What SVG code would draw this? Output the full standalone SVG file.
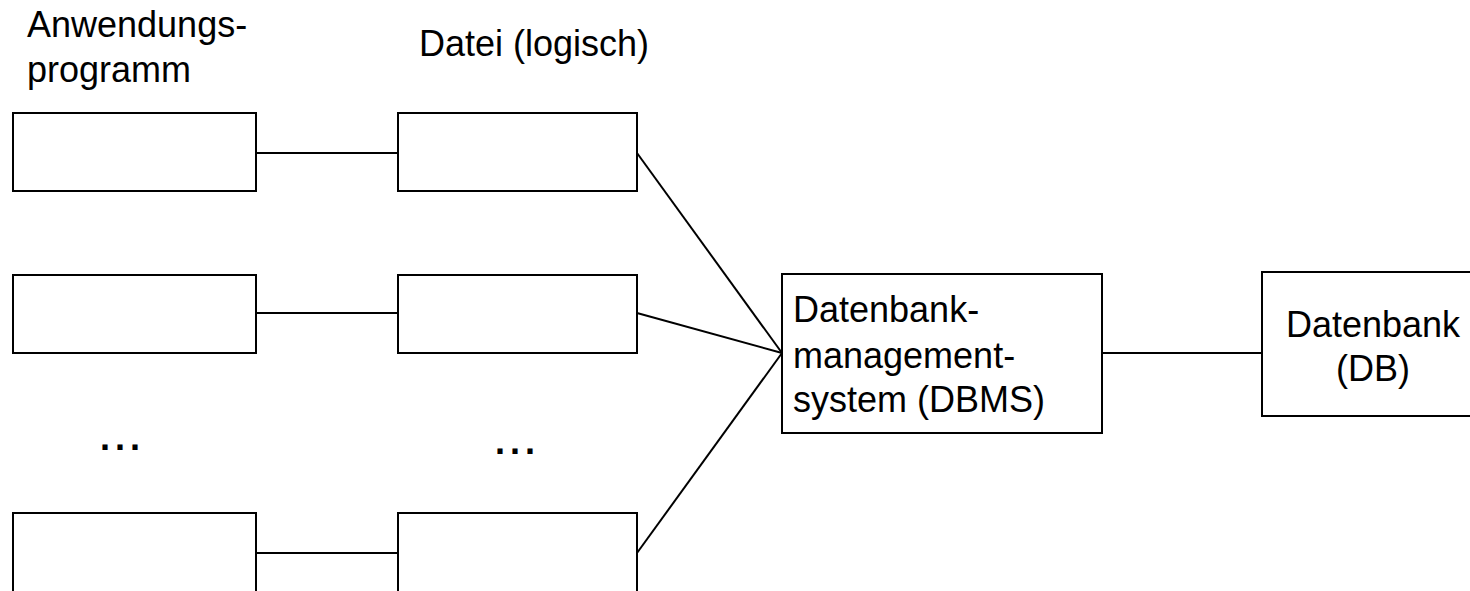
<svg xmlns="http://www.w3.org/2000/svg" width="1470" height="591" viewBox="0 0 1470 591">
<style>
.box{fill:#fff;stroke:#000;stroke-width:2}
.ln{stroke:#000;stroke-width:2;fill:none}
.t{font-family:"Liberation Sans",Arial,sans-serif;font-size:36px;fill:#000}
.d{font-family:"Liberation Sans",Arial,sans-serif;font-size:36px;font-weight:bold;fill:#000;letter-spacing:5px}
</style>
<rect width="1470" height="591" fill="#fff"/>
<g id="labels">
<text class="t" x="27" y="37">Anwendungs-</text>
<text class="t" x="27" y="82">programm</text>
<text class="t" x="419" y="56">Datei (logisch)</text>
<text class="d" x="100" y="450">...</text>
<text class="d" x="495" y="454">...</text>
</g>
<g id="connectors">
<line class="ln" x1="256" y1="153" x2="398" y2="153"/>
<line class="ln" x1="256" y1="313" x2="398" y2="313"/>
<line class="ln" x1="256" y1="553" x2="398" y2="553"/>
<line class="ln" x1="637" y1="153" x2="782" y2="353"/>
<line class="ln" x1="637" y1="313" x2="782" y2="353"/>
<line class="ln" x1="637" y1="553" x2="782" y2="353"/>
<line class="ln" x1="1102" y1="353" x2="1262" y2="353"/>
</g>
<g id="app1"><rect class="box" x="13" y="113" width="243" height="78"/></g>
<g id="file1"><rect class="box" x="398" y="113" width="239" height="78"/></g>
<g id="app2"><rect class="box" x="13" y="275" width="243" height="78"/></g>
<g id="file2"><rect class="box" x="398" y="275" width="239" height="78"/></g>
<g id="app3"><rect class="box" x="13" y="513" width="243" height="90"/></g>
<g id="file3"><rect class="box" x="398" y="513" width="239" height="90"/></g>
<g id="dbms">
<rect class="box" x="782" y="274" width="320" height="159"/>
<text class="t" x="793" y="322">Datenbank-</text>
<text class="t" x="793" y="368">management-</text>
<text class="t" x="793" y="412">system (DBMS)</text>
</g>
<g id="db">
<rect class="box" x="1262" y="272" width="230" height="144"/>
<text class="t" x="1373" y="337" text-anchor="middle">Datenbank</text>
<text class="t" x="1373" y="381" text-anchor="middle">(DB)</text>
</g>
</svg>
